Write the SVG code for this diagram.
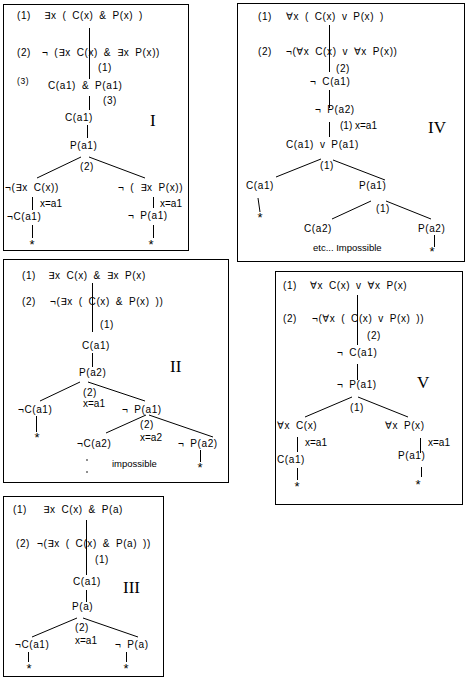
<svg xmlns="http://www.w3.org/2000/svg" width="468" height="680" viewBox="0 0 468 680">
<style>
text{font-family:"Liberation Sans","DejaVu Sans",sans-serif;font-size:10px;fill:#000}
.f{letter-spacing:0.6px;word-spacing:2.5px}
.sm{font-size:8.5px}
.s9{font-size:9.5px}
.r{font-family:"Liberation Serif","DejaVu Serif",serif;font-size:17px}
.st{font-size:13px;text-anchor:middle}
.box{fill:#fff;stroke:#000;stroke-width:1}
#connectors path{fill:none;stroke:#000;stroke-width:1}
#connectors circle{fill:#000}
</style>
<rect width="468" height="680" fill="#fff"/>
<g id="frames">
<rect class="box" x="3.5" y="4.5" width="185" height="246"/>
<rect class="box" x="237.5" y="3.5" width="227" height="258"/>
<rect class="box" x="3.5" y="259.5" width="225" height="223"/>
<rect class="box" x="275.5" y="271.5" width="187" height="233"/>
<rect class="box" x="3.5" y="496.5" width="160" height="180"/>
</g>
<g id="connectors">
<path d="M89.5 28V79M89.5 96V110M87.5 125V138M81 157L37 178M89 157L145 178M32.5 197V210M32.5 225V238M153.5 197V208M153.5 225V238"/>
<path d="M329.5 25V72M329.5 90V108M329.5 122V137M321 159L276 177M333 160L385 180M258 198L260 212M371 201L332 219M386 201L431 219M434.5 235V247"/>
<path d="M92.5 283V332M92.5 353V367M80 382L40 401M88 382L145 401M36.5 416V432M146 415L106 433M149 415L213 437M200.5 450V462"/>
<circle cx="87" cy="460" r="0.8"/><circle cx="87" cy="472" r="0.8"/>
<path d="M357.5 295V345M357.5 364V380M352 397L305 417M358 397L408 417M297.5 437V452M297.5 468V480M420.5 438V453M421.5 467V477"/>
<path d="M86.5 520V575M86.5 590V602M77 618L32 637M83 618L138 637M28.5 652V662M126.5 652V662"/>
</g>
<g id="tree-I">
<g id="I-1"><text class="f" x="17" y="19">(1)</text><text class="f" x="44" y="19">∃x ( C(x) &amp; P(x) )</text></g>
<g id="I-2"><text class="f" x="17" y="56">(2)</text><text class="f" x="42" y="56">¬ (∃x C(x) &amp; ∃x P(x))</text></g>
<g id="I-l1"><text class="f" x="98" y="71">(1)</text></g>
<g id="I-l3a"><text class="f sm" x="17" y="84">(3)</text></g>
<g id="I-3"><text class="f" x="48" y="89">C(a1) &amp; P(a1)</text></g>
<g id="I-l3b"><text class="f" x="103" y="104">(3)</text></g>
<g id="I-4"><text class="f" x="65" y="121">C(a1)</text></g>
<g id="I-num"><text class="r" x="150" y="126">I</text></g>
<g id="I-5"><text class="f" x="70" y="149">P(a1)</text></g>
<g id="I-l2"><text class="f" x="80" y="170">(2)</text></g>
<g id="I-6a"><text class="f" x="5" y="191">¬(∃x C(x))</text></g>
<g id="I-6b"><text class="f" x="118" y="191">¬ ( ∃x P(x))</text></g>
<g id="I-lx"><text x="40" y="207">x=a1</text><text x="160" y="207">x=a1</text></g>
<g id="I-7a"><text class="f" x="7" y="220">¬C(a1)</text></g>
<g id="I-7b"><text class="f" x="128" y="219">¬ P(a1)</text></g>
<g id="I-stars"><text class="st" x="32" y="249">*</text><text class="st" x="151" y="249">*</text></g>
</g>
<g id="tree-IV">
<g id="IV-1"><text class="f" x="258" y="20">(1)</text><text class="f" x="286" y="20">∀x ( C(x) v P(x) )</text></g>
<g id="IV-2"><text class="f" x="258" y="55">(2)</text><text class="f" x="286" y="55">¬(∀x C(x) v ∀x P(x))</text></g>
<g id="IV-l2"><text class="f" x="336" y="72">(2)</text></g>
<g id="IV-3"><text class="f" x="310" y="85">¬ C(a1)</text></g>
<g id="IV-4"><text class="f" x="315" y="113">¬ P(a2)</text></g>
<g id="IV-l1"><text x="340" y="129">(1) x=a1</text></g>
<g id="IV-num"><text class="r" x="428" y="133">IV</text></g>
<g id="IV-5"><text class="f" x="286" y="148">C(a1) v P(a1)</text></g>
<g id="IV-l1b"><text class="f" x="320" y="169">(1)</text></g>
<g id="IV-6a"><text class="f" x="246" y="189">C(a1)</text></g>
<g id="IV-6b"><text class="f" x="359" y="189">P(a1)</text></g>
<g id="IV-l1c"><text class="f" x="376" y="212">(1)</text></g>
<g id="IV-7a"><text class="f" x="304" y="232">C(a2)</text></g>
<g id="IV-7b"><text class="f" x="418" y="232">P(a2)</text></g>
<g id="IV-etc"><text class="s9" x="313" y="251">etc... Impossible</text></g>
<g id="IV-stars"><text class="st" x="260" y="222">*</text><text class="st" x="432" y="256">*</text></g>
</g>
<g id="tree-II">
<g id="II-1"><text class="f" x="22" y="279">(1)</text><text class="f" x="48" y="279">∃x C(x) &amp; ∃x P(x)</text></g>
<g id="II-2"><text class="f" x="22" y="305">(2)</text><text class="f" x="50" y="305">¬(∃x ( C(x) &amp; P(x) ))</text></g>
<g id="II-l1"><text class="f" x="100" y="328">(1)</text></g>
<g id="II-3"><text class="f" x="82" y="349">C(a1)</text></g>
<g id="II-num"><text class="r" x="170" y="372">II</text></g>
<g id="II-4"><text class="f" x="79" y="376">P(a2)</text></g>
<g id="II-l2"><text class="f" x="83" y="396">(2)</text><text x="83" y="407">x=a1</text></g>
<g id="II-5a"><text class="f" x="18" y="413">¬C(a1)</text></g>
<g id="II-5b"><text class="f" x="122" y="413">¬ P(a1)</text></g>
<g id="II-l3"><text class="f" x="140" y="428">(2)</text><text x="140" y="441">x=a2</text></g>
<g id="II-6a"><text class="f" x="77" y="447">¬C(a2)</text></g>
<g id="II-6b"><text class="f" x="178" y="447">¬ P(a2)</text></g>
<g id="II-imp"><text class="s9" x="112" y="467">impossible</text></g>
<g id="II-stars"><text class="st" x="37" y="442">*</text><text class="st" x="200" y="472">*</text></g>
</g>
<g id="tree-V">
<g id="V-1"><text class="f" x="283" y="289">(1)</text><text class="f" x="310" y="289">∀x C(x) v ∀x P(x)</text></g>
<g id="V-2"><text class="f" x="283" y="322">(2)</text><text class="f" x="312" y="322">¬(∀x ( C(x) v P(x) ))</text></g>
<g id="V-l2"><text class="f" x="367" y="339">(2)</text></g>
<g id="V-3"><text class="f" x="337" y="356">¬ C(a1)</text></g>
<g id="V-4"><text class="f" x="337" y="388">¬ P(a1)</text></g>
<g id="V-num"><text class="r" x="417" y="388">V</text></g>
<g id="V-l1"><text class="f" x="350" y="411">(1)</text></g>
<g id="V-5a"><text class="f" x="277" y="429">∀x C(x)</text></g>
<g id="V-5b"><text class="f" x="385" y="429">∀x P(x)</text></g>
<g id="V-lx"><text x="305" y="446">x=a1</text><text x="428" y="446">x=a1</text></g>
<g id="V-6a"><text class="f" x="277" y="463">C(a1)</text></g>
<g id="V-6b"><text class="f" x="398" y="459">P(a1)</text></g>
<g id="V-stars"><text class="st" x="297" y="491">*</text><text class="st" x="418" y="489">*</text></g>
</g>
<g id="tree-III">
<g id="III-1"><text class="f" x="13" y="513">(1)</text><text class="f" x="43" y="513">∃x C(x) &amp; P(a)</text></g>
<g id="III-2"><text class="f" x="16" y="547">(2)</text><text class="f" x="37" y="547">¬(∃x ( C(x) &amp; P(a) ))</text></g>
<g id="III-l1"><text class="f" x="95" y="563">(1)</text></g>
<g id="III-3"><text class="f" x="73" y="585">C(a1)</text></g>
<g id="III-num"><text class="r" x="123" y="593">III</text></g>
<g id="III-4"><text class="f" x="72" y="610">P(a)</text></g>
<g id="III-l2"><text class="f" x="75" y="631">(2)</text><text x="75" y="644">x=a1</text></g>
<g id="III-5a"><text class="f" x="15" y="648">¬C(a1)</text></g>
<g id="III-5b"><text class="f" x="115" y="648">¬ P(a)</text></g>
<g id="III-stars"><text class="st" x="29" y="673">*</text><text class="st" x="126" y="673">*</text></g>
</g>
</svg>
